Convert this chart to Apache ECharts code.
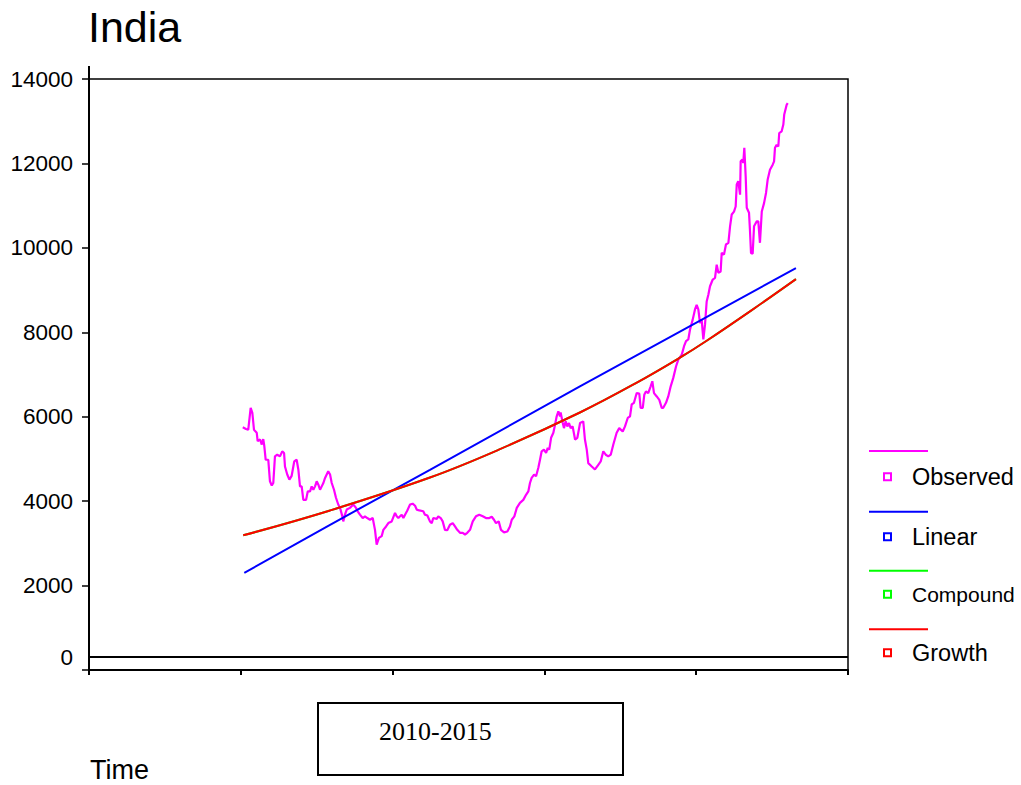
<!DOCTYPE html>
<html><head><meta charset="utf-8">
<script src="https://cdn.jsdelivr.net/npm/echarts@6/dist/echarts.min.js"></script>
<style>html,body{margin:0;padding:0;background:#fff}#c{width:1021px;height:785px}</style>
</head><body><div id="c"></div>
<script>
// Observed series (time index, value)
const obsT = [101.3,103.4,104.9,106.5,107.6,108.7,110.5,111.1,112.7,113.8,114.8,115.5,116.4,118.1,119.2,120.4,121.4,122.5,124.0,125.8,127.3,128.5,129.1,130.6,132.0,133.5,135.2,136.8,137.9,139.0,140.1,141.2,143.0,144.1,145.6,146.7,147.8,148.9,150.0,151.1,152.2,153.3,154.4,155.5,157.6,158.8,159.9,161.4,162.7,164.2,165.4,166.9,167.5,168.6,169.8,171.9,174.1,175.9,177.0,178.5,180.3,181.8,183.3,185.1,186.9,188.4,189.5,191.0,192.8,193.9,195.7,197.2,199.4,201.6,202.7,203.8,204.9,206.0,207.1,208.2,209.7,211.5,213.2,214.8,215.9,217.6,220.2,221.3,222.9,224.6,225.8,226.8,229.1,230.1,231.7,233.0,234.5,236.0,237.8,239.6,241.1,242.6,244.4,246.2,247.7,249.2,251.0,252.8,254.9,257.1,259.4,261.5,263.7,265.3,266.8,268.1,269.9,271.4,273.4,275.6,277.3,278.5,280.2,281.8,283.9,286.1,287.9,289.4,290.5,291.6,293.2,294.5,296.0,297.1,298.2,299.7,301.1,302.2,303.2,304.4,305.9,307.0,308.1,309.2,310.3,310.7,312.1,312.9,314.0,315.1,316.2,317.3,318.6,320.2,321.7,323.5,325.6,326.7,327.9,328.9,331.2,333.3,335.5,337.1,338.8,340.4,342.1,343.7,345.4,347.6,349.3,351.6,353.1,354.9,356.4,357.5,359.0,360.8,362.5,363.4,364.8,365.8,366.9,368.4,370.0,371.1,372.2,374.0,375.7,377.3,378.3,380.1,381.6,383.2,384.9,386.7,388.2,390.5,392.0,393.3,394.8,395.9,397.7,399.2,400.3,401.4,402.5,403.6,404.7,405.8,406.9,408.0,409.1,410.9,412.4,413.5,414.6,416.1,416.8,418.3,419.6,421.2,422.3,423.4,424.9,426.0,426.7,427.7,428.9,429.3,430.4,431.0,431.7,432.6,433.3,434.8,435.4,436.1,437.2,438.1,439.9,440.9,442.0,443.2,444.7,446.0,447.1,448.6,450.4,451.3,451.9,453.0,454.1,454.7,456.3,457.4,458.0,459.6,460.3];
const obsV = [5750,5710,5690,6210,6090,5690,5620,5420,5460,5340,5470,5300,4980,4980,4470,4370,4430,5060,5100,5060,5180,5140,4820,4630,4510,4600,4940,4980,4750,4350,4350,4030,4030,4230,4230,4350,4270,4350,4470,4390,4270,4350,4430,4550,4710,4630,4430,4270,4080,3920,3840,3640,3520,3680,3800,3840,3920,3840,3760,3680,3600,3640,3600,3560,3600,3320,2970,3130,3170,3320,3400,3480,3520,3720,3640,3600,3640,3680,3600,3680,3780,3920,3940,3890,3800,3780,3760,3680,3660,3520,3480,3600,3580,3640,3600,3520,3320,3310,3440,3480,3400,3320,3250,3250,3210,3250,3320,3520,3640,3680,3640,3600,3600,3630,3560,3480,3520,3320,3260,3280,3400,3560,3640,3840,3960,4030,4150,4230,4430,4550,4630,4590,4790,4980,5180,5220,5140,5260,5220,5500,5620,5810,6010,6130,6010,6100,5850,5730,5890,5770,5850,5730,5770,5460,5500,5850,5890,5460,5220,4900,4820,4750,4860,4940,5180,5100,5060,5100,5340,5620,5730,5650,5770,5970,6010,6290,6330,6560,6550,6210,6210,6520,6600,6560,6720,6840,6560,6480,6400,6210,6210,6330,6480,6720,6920,7190,7350,7470,7670,7790,7830,8060,8300,8540,8650,8540,8220,8300,7830,8180,8730,8890,9090,9250,9290,9600,9410,9440,9880,9840,10080,10120,10510,10790,10860,10980,11500,11580,11260,12050,12090,12010,12370,11690,10950,10830,10430,9880,9860,10510,10630,10630,10120,10860,11060,11300,11620,11850,11970,12050,12370,12440,12400,12720,12760,12920,13160,13390,13430];
// Fitted curves (read at several time points)
const linearT = [102.3,158.8,224.6,323.4,465.7];
const linearV = [2300,3440,4740,6720,9520];
const compoundT = [101.6,158.8,224.6,270.0,323.4,360.0,389.3,406.9,437.6,465.7];
const compoundV = [3190,3780,4560,5220,6100,6790,7400,7800,8550,9260];
const growthT = [101.6,158.8,224.6,270.0,323.4,360.0,389.3,406.9,437.6,465.7];
const growthV = [3190,3780,4560,5220,6100,6790,7400,7800,8550,9260];
const yTickValues = [0,2000,4000,6000,8000,10000,12000,14000];
const xTickValues = [0,100,200,300,400,500];
const refLineValue = 308;
const seriesNames = ['Observed','Linear','Compound','Growth'];
const seriesColors = ['#FF00FF','#0000FF','#00FF00','#FF0000'];
const titleText = 'India';
const xTitle = 'Time';
const boxText = '2010-2015';

const pairs = (t, v) => t.map((x, i) => [x, v[i]]);
const dataSets = [pairs(obsT, obsV), pairs(linearT, linearV), pairs(compoundT, compoundV), pairs(growthT, growthV)];

const chart = echarts.init(document.getElementById('c'), null, {renderer: 'svg'});
const sans = 'Liberation Sans, Arial, sans-serif';

const legendTop = [451, 511.7, 570.7, 629.3];
const legendSq = [476.7, 536.7, 594.3, 652.7];
const legendFont = [23.5, 23.5, 21, 23.5];
const graphic = [];
seriesNames.forEach((n, i) => {
  graphic.push({type: 'line', shape: {x1: 869, y1: legendTop[i], x2: 928, y2: legendTop[i]}, style: {stroke: seriesColors[i], lineWidth: 2}});
  graphic.push({type: 'rect', shape: {x: 884, y: legendSq[i] - 3.5, width: 7, height: 7}, style: {stroke: seriesColors[i], lineWidth: 2, fill: 'none'}});
  graphic.push({type: 'text', x: 912, y: legendSq[i], style: {text: n, fontFamily: sans, fontSize: legendFont[i], fill: '#000', verticalAlign: 'middle', align: 'left'}});
});
graphic.push({type: 'line', shape: {x1: 89, y1: 66, x2: 89, y2: 80}, style: {stroke: '#000', lineWidth: 2}});
graphic.push({type: 'text', x: 90, y: 770, style: {text: xTitle, fontFamily: sans, fontSize: 27, fill: '#000', verticalAlign: 'middle'}});
graphic.push({type: 'rect', shape: {x: 318, y: 703, width: 305, height: 72}, style: {stroke: '#000', lineWidth: 2, fill: 'none'}});
graphic.push({type: 'text', x: 379, y: 731, style: {text: boxText, fontFamily: 'Liberation Serif, Times New Roman, serif', fontSize: 26, fill: '#000', verticalAlign: 'middle'}});

const series = seriesNames.map((n, i) => ({
  type: 'line', name: n, data: dataSets[i], symbol: 'none', showSymbol: false,
  smooth: i >= 2 ? 0.4 : false, silent: true, z: 2 + i,
  lineStyle: {color: seriesColors[i], width: i === 0 ? 2.2 : 2}, itemStyle: {color: seriesColors[i]}
}));
series[0].markLine = {silent: true, symbol: 'none', label: {show: false},
  lineStyle: {color: '#000', width: 2, type: 'solid'}, data: [{yAxis: refLineValue}]};

chart.setOption({
  animation: false,
  backgroundColor: '#fff',
  title: {text: titleText, left: 88, top: 5, padding: 0,
    textStyle: {fontFamily: sans, fontSize: 43, fontWeight: 'normal', color: '#000'}},
  grid: {left: 89, right: 173, top: 79, bottom: 115, show: true, borderColor: '#000', borderWidth: 1.5, backgroundColor: 'transparent'},
  xAxis: {type: 'value', min: 0, max: 500, interval: 100,
    axisLine: {show: true, onZero: false, lineStyle: {color: '#000', width: 2}},
    axisTick: {show: true, length: 5, lineStyle: {color: '#000', width: 2}, customValues: xTickValues},
    axisLabel: {show: false}, splitLine: {show: false}},
  yAxis: {type: 'value', min: 0, max: 14000, interval: 2000,
    axisLine: {show: true, lineStyle: {color: '#000', width: 2}},
    axisTick: {show: true, length: 7, lineStyle: {color: '#000', width: 1.5}},
    axisLabel: {show: true, margin: 16, fontFamily: sans, fontSize: 22.5, color: '#000',
      customValues: yTickValues,
      formatter: v => v === 0 ? '{z|0}' : String(v),
      rich: {z: {fontFamily: sans, fontSize: 22.5, color: '#000', padding: [0, 0, 26, 0]}}},
    splitLine: {show: false}},
  graphic: graphic,
  series: series
});
</script></body></html>
